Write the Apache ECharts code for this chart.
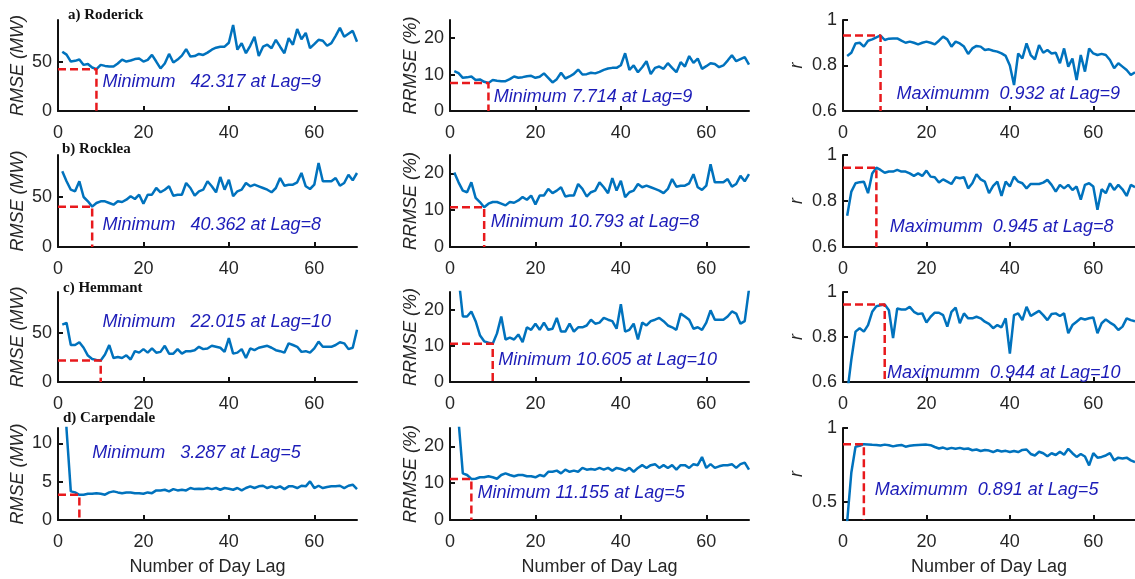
<!DOCTYPE html>
<html>
<head>
<meta charset="utf-8">
<script src="https://cdn.jsdelivr.net/npm/echarts@6/dist/echarts.min.js"></script>
<style>
  html, body { margin: 0; padding: 0; background: #ffffff; }
  #chart { width: 1135px; height: 579px; }
</style>
</head>
<body>
<div id="chart"></div>
<script>
// ---- data ---------------------------------------------------------------
const lags = [1,2,3,4,5,6,7,8,9,10,11,12,13,14,15,16,17,18,19,20,
  21,22,23,24,25,26,27,28,29,30,31,32,33,34,35,36,37,38,39,40,
  41,42,43,44,45,46,47,48,49,50,51,52,53,54,55,56,57,58,59,60,
  61,62,63,64,65,66,67,68,69,70];

const stations = ['a) Roderick', 'b) Rocklea', 'c) Hemmant', 'd) Carpendale'];

// RMSE (MW) by day lag
const rmseRoderick = [60,57,50,50.7,52,46.6,47.6,44,42.317,46.6,
  45.6,45,45,48,52,50,51,52.5,53,50,
  51.7,56.7,50,43,48,57.7,49,52,56,62.5,
  55,55.5,57.7,56.7,59,62,64,65,65,69,
  87,62,68.6,58.4,65.9,75,55.7,65,67,63.5,
  72,65,58.4,73.6,67,82.8,72.6,79,63.5,67.6,
  72,71,66,68.6,76,84,75,78,81,70];
const rmseRocklea = [75.7,65.7,57.3,55.7,65.7,50,45.7,40.362,44,45.7,
  45.7,44,42.3,45.7,45,47.3,50.7,48,52.3,43.3,
  52.3,52.3,59,54.7,57.3,60.7,51.3,52.3,52.3,64,
  59,51.3,55.7,57.3,65.7,60.7,54.7,70,57.3,67.3,
  50.7,55.7,57.3,64,60.7,62.3,60.7,59,57.3,54.7,
  59,69,61.3,62.3,62.3,64.7,74,60.7,58,62.3,
  84,65.7,65.7,65.7,69,61.3,64,72.3,66.7,74];
const rmseHemmant = [58.7,60.5,37.8,37.8,40.6,35,27,23.5,22.6,22.015,
  28,37.8,24.5,25.5,24.5,27.3,23,31.5,30,33.6,
  30,34.3,30,30.8,37,29,29,33.6,29,31.5,
  31.5,32.5,36,33.6,34.3,37,36,35,30.8,44.8,
  29,30,33.6,24.5,34.3,32.5,35,36,37,35,
  32.5,31.5,30,39.5,37.8,36,30.8,31.5,30,34.3,
  41.3,36,36,36,37.8,40.6,39.5,33.6,35,53.5];
const rmseCarpendale = [25,11.8,3.73,3.6,3.287,3.3,3.42,3.42,3.5,3.42,
  3.3,3.6,3.73,3.6,3.5,3.6,3.6,3.5,3.5,3.42,
  3.6,3.5,3.86,3.86,3.95,3.73,4.03,3.86,3.95,3.86,
  4.17,4.03,4.08,4.03,4.17,4.03,4.17,3.95,4.17,4.08,
  3.95,4.17,3.86,4.17,4.39,4.17,4.39,4.47,4.17,4.39,
  4.17,4.39,4.03,4.39,4.39,4.17,4.47,4.39,5.04,4.17,
  4.47,4.17,4.3,4.39,4.39,4.47,4.17,4.47,4.6,4.03];

// RRMSE (%) by day lag
const rrmseRoderick = [10.94,10.39,9.12,9.24,9.48,8.5,8.68,8.02,7.714,8.5,
  8.31,8.2,8.2,8.75,9.48,9.12,9.3,9.57,9.66,9.12,
  9.42,10.34,9.12,7.84,8.75,10.52,8.93,9.48,10.21,11.39,
  10.03,10.12,10.52,10.34,10.76,11.3,11.67,11.85,11.85,12.58,
  15.86,11.3,12.51,10.65,12.01,13.67,10.15,11.85,12.21,11.58,
  13.13,11.85,10.65,13.42,12.21,15.09,13.24,14.4,11.58,12.32,
  13.13,12.94,12.03,12.51,13.85,15.31,13.67,14.22,14.77,12.76];
const rrmseRocklea = [20.24,17.57,15.32,14.89,17.57,13.37,12.22,10.793,11.77,12.22,
  12.22,11.77,11.31,12.22,12.03,12.65,13.56,12.84,13.99,11.58,
  13.99,13.99,15.78,14.63,15.32,16.23,13.72,13.99,13.99,17.11,
  15.78,13.72,14.89,15.32,17.57,16.23,14.63,18.72,15.32,18,
  13.56,14.89,15.32,17.11,16.23,16.66,16.23,15.78,15.32,14.63,
  15.78,18.45,16.39,16.66,16.66,17.3,19.79,16.23,15.51,16.66,
  22.46,17.57,17.57,17.57,18.45,16.39,17.11,19.33,17.84,19.79];
const rrmseHemmant = [28.3,29.1,18.2,18.2,19.6,16.9,13,11.3,10.9,10.605,
  13.5,18.2,11.8,12.3,11.8,13.2,11.1,15.2,14.5,16.2,
  14.5,16.5,14.5,14.8,17.8,14,14,16.2,14,15.2,
  15.2,15.7,17.3,16.2,16.5,17.8,17.3,16.9,14.8,21.6,
  14,14.5,16.2,11.8,16.5,15.7,16.9,17.3,17.8,16.9,
  15.7,15.2,14.5,19,18.2,17.3,14.8,15.2,14.5,16.5,
  19.9,17.3,17.3,17.3,18.2,19.6,19,16.2,16.9,25.8];
const rrmseCarpendale = [60,27,12.66,12.22,11.155,11.2,11.61,11.61,11.88,11.61,
  11.2,12.22,12.66,12.22,11.88,12.22,12.22,11.88,11.88,11.61,
  12.22,11.88,13.1,13.1,13.41,12.66,13.68,13.1,13.41,13.1,
  14.15,13.68,13.85,13.68,14.15,13.68,14.15,13.41,14.15,13.85,
  13.41,14.15,13.1,14.15,14.9,14.15,14.9,15.17,14.15,14.9,
  14.15,14.9,13.68,14.9,14.9,14.15,15.17,14.9,17.1,14.15,
  15.17,14.15,14.59,14.9,14.9,15.17,14.15,15.17,15.61,13.68];

// correlation coefficient r by day lag
const rRoderick = [0.842,0.856,0.897,0.9,0.883,0.909,0.915,0.924,0.932,0.912,
  0.918,0.919,0.919,0.909,0.9,0.905,0.9,0.893,0.9,0.905,
  0.9,0.893,0.909,0.927,0.915,0.883,0.905,0.897,0.883,0.851,
  0.875,0.886,0.883,0.868,0.871,0.865,0.861,0.853,0.842,0.8,
  0.714,0.853,0.831,0.897,0.846,0.827,0.89,0.856,0.868,0.853,
  0.856,0.81,0.875,0.795,0.831,0.736,0.846,0.773,0.875,0.853,
  0.846,0.851,0.846,0.824,0.788,0.81,0.795,0.78,0.758,0.77];
const rRocklea = [0.736,0.841,0.877,0.882,0.884,0.834,0.92,0.945,0.935,0.923,
  0.928,0.928,0.935,0.928,0.928,0.92,0.909,0.92,0.909,0.932,
  0.906,0.903,0.88,0.894,0.884,0.874,0.903,0.899,0.903,0.855,
  0.877,0.916,0.894,0.884,0.834,0.866,0.884,0.822,0.884,0.863,
  0.906,0.884,0.877,0.855,0.874,0.874,0.874,0.88,0.892,0.87,
  0.841,0.87,0.855,0.87,0.848,0.863,0.806,0.87,0.877,0.863,
  0.762,0.851,0.834,0.877,0.848,0.87,0.851,0.822,0.87,0.86];
const rHemmant = [0.55,0.7,0.824,0.839,0.824,0.853,0.912,0.937,0.941,0.944,
  0.919,0.795,0.927,0.922,0.922,0.934,0.912,0.902,0.905,0.864,
  0.89,0.908,0.908,0.897,0.846,0.912,0.931,0.861,0.905,0.883,
  0.883,0.89,0.883,0.868,0.858,0.839,0.853,0.843,0.883,0.726,
  0.897,0.905,0.875,0.934,0.893,0.905,0.916,0.897,0.875,0.902,
  0.905,0.893,0.905,0.817,0.853,0.868,0.883,0.878,0.883,0.887,
  0.817,0.861,0.878,0.864,0.853,0.831,0.846,0.883,0.875,0.87];
const rCarpendale = [0.37,0.7,0.874,0.88,0.891,0.889,0.887,0.886,0.882,0.888,
  0.884,0.876,0.882,0.886,0.874,0.88,0.884,0.886,0.887,0.888,
  0.884,0.872,0.862,0.868,0.858,0.866,0.86,0.866,0.858,0.862,
  0.85,0.855,0.845,0.852,0.848,0.838,0.85,0.842,0.846,0.838,
  0.845,0.838,0.852,0.855,0.825,0.815,0.84,0.83,0.81,0.83,
  0.818,0.84,0.82,0.86,0.83,0.805,0.825,0.808,0.748,0.83,
  0.8,0.805,0.815,0.83,0.782,0.8,0.795,0.8,0.782,0.77];

// optimum lag and the value reached there
const bestLag = [9, 8, 10, 5];
const minRmse = [42.317, 40.362, 22.015, 3.287];
const minRrmse = [7.714, 10.793, 10.605, 11.155];
const maxR = [0.932, 0.945, 0.944, 0.891];

// tick labels
const xTicks = [0, 20, 40, 60];
const rmseTicks = [0, 50];
const rmseTicksCarpendale = [0, 5, 10];
const rrmseTicks = [0, 10, 20];
const rTicks = [0.6, 0.8, 1];
const rTicksCarpendale = [0.5, 1];

// ---- layout ---------------------------------------------------------------
const SANS = '"Liberation Sans", Arial, Helvetica, sans-serif';
const SERIF = '"Liberation Serif", "Times New Roman", serif';
const INK = '#111111';
const LINE_BLUE = '#0072BD';
const GUIDE_RED = '#e8191c';
const NOTE_BLUE = '#1c1cb8';

const colLeft = [58, 450, 843];
const colWidth = [299, 299, 297];
const rowTop = [20, 155, 292, 428];
const rowHeight = [91, 92, 90, 92];
const titlePos = [[68, 8], [62, 142], [63, 281], [63, 411]];

const metrics = [
  { axisName: 'RMSE (MW)', nameGap: 31,
    values: [rmseRoderick, rmseRocklea, rmseHemmant, rmseCarpendale],
    best: minRmse, prefix: 'Minimum   ',
    ranges: [[0, 92], [0, 92], [0, 92], [0, 12]],
    ticks: [rmseTicks, rmseTicks, rmseTicks, rmseTicksCarpendale] },
  { axisName: 'RRMSE (%)', nameGap: 29,
    values: [rrmseRoderick, rrmseRocklea, rrmseHemmant, rrmseCarpendale],
    best: minRrmse, prefix: 'Minimum ',
    ranges: [[0, 25], [0, 25], [0, 25], [0, 25]],
    ticks: [rrmseTicks, rrmseTicks, rrmseTicks, rrmseTicks] },
  { axisName: 'r', nameGap: 37,
    values: [rRoderick, rRocklea, rHemmant, rCarpendale],
    best: maxR, prefix: 'Maximumm  ',
    ranges: [[0.6, 1], [0.6, 1], [0.6, 1], [0.38, 1]],
    ticks: [rTicks, rTicks, rTicks, rTicksCarpendale] }
];

// anchor (in data units) for each panel's annotation
const noteAt = [
  [[10.3, 29.6], [10.1, 3.85], [12.7, 0.675]],
  [[10.3, 22.2], [9.4, 6.8], [11.1, 0.687]],
  [[10.3, 61], [11.2, 6.2], [10.4, 0.64]],
  [[7.9, 8.7], [6.3, 7.3], [7.5, 0.58]]
];

const grids = [], xAxes = [], yAxes = [], series = [];
const titles = stations.map((s, i) => ({
  text: s, left: titlePos[i][0], top: titlePos[i][1], padding: 0,
  textStyle: { fontFamily: SERIF, fontWeight: 'bold', fontSize: 15, color: INK }
}));

const axisLineStyle = { color: INK, width: 2 };

for (let row = 0; row < 4; row++) {
  for (let col = 0; col < 3; col++) {
    const m = metrics[col];
    const idx = grids.length;
    const [yMin, yMax] = m.ranges[row];
    grids.push({ left: colLeft[col], top: rowTop[row], width: colWidth[col], height: rowHeight[row] });

    xAxes.push({
      type: 'value', gridIndex: idx, min: 0, max: 70,
      name: row === 3 ? 'Number of Day Lag' : '',
      nameLocation: 'middle', nameGap: 38,
      nameTextStyle: { fontFamily: SANS, fontSize: 18, color: '#262626' },
      axisLine: { show: true, onZero: false, lineStyle: axisLineStyle },
      axisTick: { show: true, inside: true, length: 5, customValues: xTicks, lineStyle: axisLineStyle },
      axisLabel: { customValues: xTicks, margin: 13, fontFamily: SANS, fontSize: 18, color: '#262626' },
      splitLine: { show: false }
    });

    yAxes.push({
      type: 'value', gridIndex: idx, min: yMin, max: yMax,
      name: m.axisName, nameLocation: 'middle', nameRotate: 90, nameGap: m.nameGap,
      nameTextStyle: { fontFamily: SANS, fontSize: 18, fontStyle: 'italic', color: '#262626' },
      axisLine: { show: true, onZero: false, lineStyle: axisLineStyle },
      axisTick: { show: true, inside: true, length: 5, customValues: m.ticks[row], lineStyle: axisLineStyle },
      axisLabel: { customValues: m.ticks[row], margin: 6, fontFamily: SANS, fontSize: 18, color: '#262626' },
      splitLine: { show: false }
    });

    const vals = m.values[row];
    series.push({
      type: 'line', xAxisIndex: idx, yAxisIndex: idx,
      data: lags.map((l, i) => [l, vals[i]]),
      showSymbol: false, symbol: 'none', clip: true,
      lineStyle: { color: LINE_BLUE, width: 2.5 },
      silent: true, z: 2
    });

    const lag = bestLag[row], best = m.best[row];
    series.push({
      type: 'line', xAxisIndex: idx, yAxisIndex: idx,
      data: [[0, best], [lag, best], [lag, yMin]],
      showSymbol: false, symbol: 'none', clip: true,
      lineStyle: { color: GUIDE_RED, width: 2.5, type: [8, 4] },
      silent: true, z: 3
    });

    // annotation text anchored at a data point in the panel
    series.push({
      type: 'scatter', xAxisIndex: idx, yAxisIndex: idx,
      data: [noteAt[row][col]],
      symbolSize: 1, itemStyle: { color: 'rgba(0,0,0,0)', opacity: 1 }, silent: true, z: 4,
      labelLayout: { hideOverlap: false },
      label: {
        show: true, position: 'right', distance: 0,
        formatter: m.prefix + best + ' at Lag=' + lag,
        fontFamily: SANS, fontSize: 18, fontStyle: 'italic', color: NOTE_BLUE
      }
    });
  }
}

const chart = echarts.init(document.getElementById('chart'), null, { renderer: 'canvas' });
chart.setOption({
  animation: false,
  backgroundColor: '#ffffff',
  title: titles,
  grid: grids,
  xAxis: xAxes,
  yAxis: yAxes,
  series: series
});
</script>
</body>
</html>
